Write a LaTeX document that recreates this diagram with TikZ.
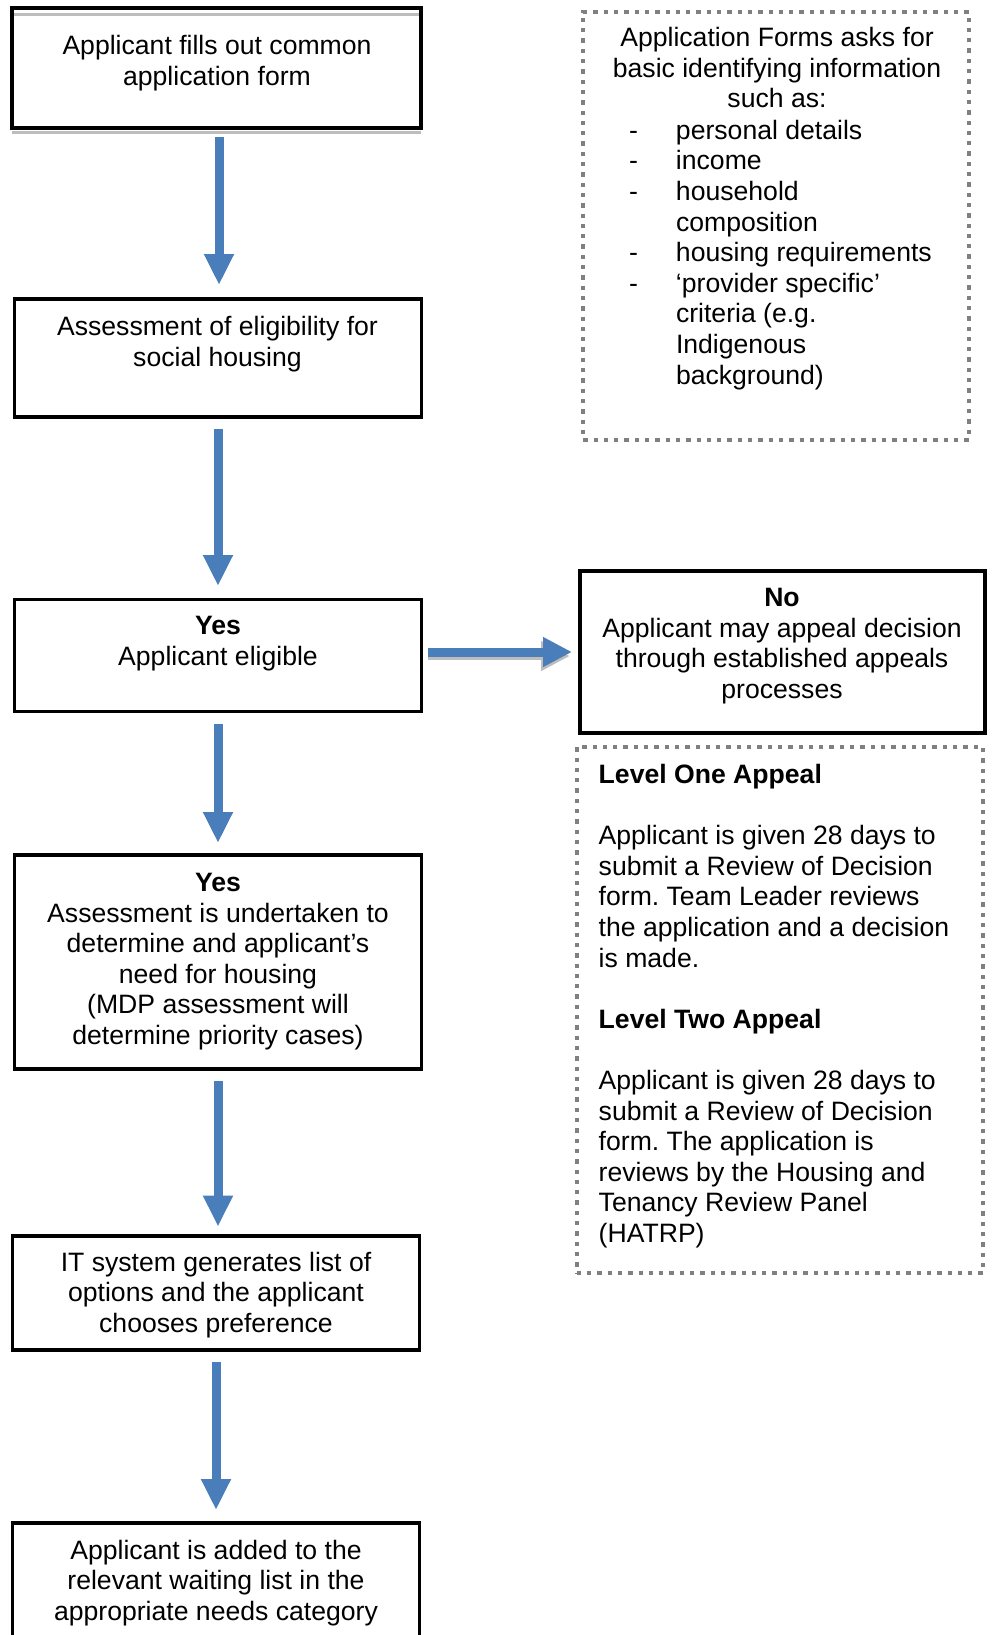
\documentclass[tikz,border=0pt]{standalone}
\usepackage{fontspec}
\setmainfont{Liberation Sans}
\frenchspacing
\usetikzlibrary{arrows.meta,calc}
\definecolor{arrowblue}{HTML}{4A7EBB}
\definecolor{dotgray}{HTML}{808080}
\definecolor{shadegray}{HTML}{BDBDBD}
\begin{document}
\begin{tikzpicture}[x=1pt,y=-1pt,
  box/.style={draw=black, line width=3.8pt, rectangle, outer sep=0pt, inner sep=0pt},
  dotbox/.style={draw=dotgray, line width=4pt, dash pattern=on 4.3pt off 6pt, rectangle, outer sep=0pt, inner sep=0pt},
  txt/.style={font=\fontsize{26.6pt}{30.6pt}\selectfont, inner sep=0pt, outer sep=0pt, anchor=base},
  arr/.style={draw=arrowblue, line width=9pt, -{Triangle[width=28pt,length=31pt]}},
  shade/.style={draw=shadegray, line width=3pt}]
\useasboundingbox (0,0) rectangle (994,1635);
\clip (0,0) rectangle (994,1635);
\fill[white] (0,0) rectangle (994,1635);
% boxes
\node[box, minimum width=409pt, minimum height=120pt] (b1) at (216.5,68) {};
\node[box, minimum width=407pt, minimum height=118pt] (b2) at (218,358) {};
\node[box, minimum width=407pt, minimum height=112pt] (b3) at (218,655.5) {};
\node[box, minimum width=407pt, minimum height=214pt] (b4) at (218,962) {};
\node[box, minimum width=407pt, minimum height=114pt] (b5) at (216,1293) {};
\node[box, minimum width=407pt, minimum height=177pt] (b6) at (216,1611.5) {};
\node[box, minimum width=405pt, minimum height=161.5pt] (no) at (782.5,652) {};
\node[dotbox, minimum width=385.5pt, minimum height=428pt] (d1) at (776,225.75) {};
\node[dotbox, minimum width=406pt, minimum height=526.5pt] (d2) at (779.75,1010) {};
% grey shading lines along the first box
\draw[shade] ([xshift=2pt,yshift=-6.5pt]b1.north west) -- ([xshift=-2pt,yshift=-6.5pt]b1.north east);
\draw[shade] ([yshift=-4.5pt]b1.south west) -- ([yshift=-4.5pt]b1.south east);
% texts (anchor = baseline of the last line)
\node[txt, align=center] (t1) at (217,85.6) {Applicant fills out common\\application form};
\node[txt, align=center] (t2) at (217.5,366.1) {Assessment of eligibility for\\social housing};
\node[txt, align=center] (t3) at (218,665.4) {\textbf{Yes}\\Applicant eligible};
\node[txt, align=center] (t4) at (218,1044.5) {\textbf{Yes}\\Assessment is undertaken to\\determine and applicant’s\\need for housing\\(MDP assessment will\\determine priority cases)};
\node[txt, align=center] (t5) at (216,1332.2) {IT system generates list of\\options and the applicant\\chooses preference};
\node[txt, align=center] (t6) at (216,1620.2) {Applicant is added to the\\relevant waiting list in the\\appropriate needs category};
\node[txt, align=center] (t7) at (777,107.7) {Application Forms asks for\\basic identifying information\\such as:};
\node[txt, align=left, anchor=base west] (t8) at (629,384) {\makebox[47pt][l]{-}personal details\\\makebox[47pt][l]{-}income\\\makebox[47pt][l]{-}household\\\hspace*{47pt}composition\\\makebox[47pt][l]{-}housing requirements\\\makebox[47pt][l]{-}‘provider specific’\\\hspace*{47pt}criteria (e.g.\\\hspace*{47pt}Indigenous\\\hspace*{47pt}background)};
\node[txt, align=center] (t9) at (782,698.4) {\textbf{No}\\Applicant may appeal decision\\through established appeals\\processes};
\node[txt, align=left, anchor=base west] (t10) at (598.7,1242.5) {\textbf{Level One Appeal}\\[30.6pt]Applicant is given 28 days to\\submit a Review of Decision\\form. Team Leader reviews\\the application and a decision\\is made.\\[30.6pt]\textbf{Level Two Appeal}\\[30.6pt]Applicant is given 28 days to\\submit a Review of Decision\\form. The application is\\reviews by the Housing and\\Tenancy Review Panel\\(HATRP)};
% arrows
\draw[arr] ([xshift=2.5pt,yshift=-9pt]b1.south) -- ([xshift=1pt,yshift=14pt]b2.north);
\draw[arr] ([yshift=-11.7pt]b2.south) -- ([yshift=13.5pt]b3.north);
\draw[arr, draw=shadegray, line width=8.5pt, -{Triangle[width=28pt,length=29pt]}] ([xshift=6pt,yshift=-0.5pt]b3.east) -- ([xshift=-10pt,yshift=-4pt]no.west);
\draw[arr, line width=9pt, -{Triangle[width=28pt,length=29pt]}] ([xshift=6pt,yshift=3.5pt]b3.east) -- ([xshift=-8pt]no.west);
\draw[arr] ([yshift=-12.5pt]b3.south) -- ([yshift=12pt]b4.north);
\draw[arr] ([yshift=-11.5pt]b4.south) -- ([xshift=2pt,yshift=9.4pt]b5.north);
\draw[arr] ([yshift=-12pt]b5.south) -- ([yshift=13pt]b6.north);
\end{tikzpicture}
\end{document}
